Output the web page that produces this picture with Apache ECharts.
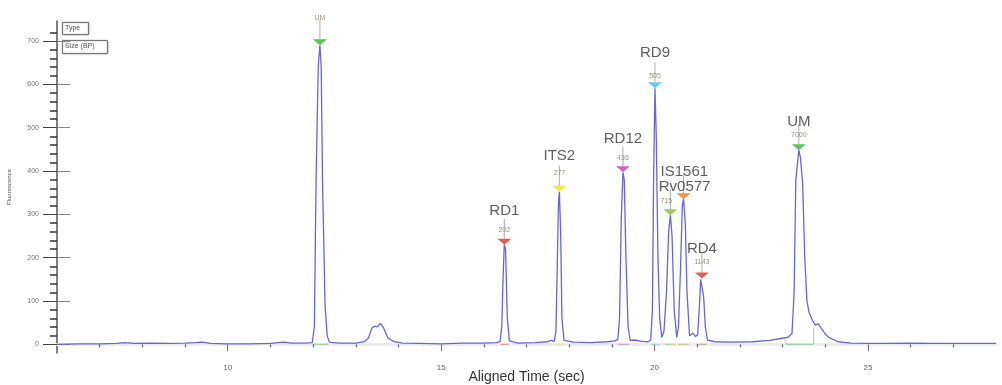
<!DOCTYPE html>
<html>
<head>
<meta charset="utf-8">
<script src="https://cdn.jsdelivr.net/npm/echarts@6/dist/echarts.min.js"></script>
<style>
  html, body { margin: 0; padding: 0; background: #fff; }
  #chart { width: 1002px; height: 385px; }
</style>
</head>
<body>
<div id="chart"></div>
<script>
// electropherogram trace (time in sec, fluorescence)
const traceTime = [
  6.0, 6.5, 7.0, 7.4, 7.58, 7.8, 8.2, 8.6, 9.0, 9.25, 9.4, 9.6, 10.0, 10.5, 11.0, 11.3, 11.5, 11.8,
  11.98, 12.03, 12.07, 12.12, 12.16, 12.19, 12.22, 12.28, 12.33, 12.38, 12.6, 13.0,
  13.2, 13.3, 13.38, 13.45, 13.5, 13.58, 13.65, 13.75, 13.9, 14.1, 14.5, 15.0, 15.5, 16.0, 16.3,
  16.38, 16.42, 16.45, 16.48, 16.51, 16.55, 16.6, 16.8, 17.2, 17.5, 17.58, 17.65,
  17.69, 17.72, 17.75, 17.77, 17.8, 17.83, 17.88, 18.1, 18.5, 18.9, 19.08,
  19.14, 19.18, 19.22, 19.26, 19.29, 19.33, 19.38, 19.43, 19.53, 19.7, 19.85,
  19.91, 19.95, 19.98, 20.01, 20.04, 20.08, 20.12, 20.17,
  20.22, 20.28, 20.33, 20.37, 20.41, 20.46, 20.52,
  20.56, 20.61, 20.65, 20.68, 20.72, 20.76, 20.82, 20.9, 20.96,
  21.01, 21.05, 21.08, 21.11, 21.15, 21.19, 21.24, 21.4, 21.8, 22.3, 22.7, 23.0, 23.12,
  23.22, 23.27, 23.31, 23.38, 23.42, 23.47, 23.52, 23.57, 23.62, 23.7, 23.77, 23.83, 23.9,
  24.0, 24.08, 24.3, 24.6, 25.0, 25.5, 26.0, 26.5, 27.0, 27.5, 28.0
];
const traceRfu = [
  0, 1, 1, 2, 4, 2, 3, 2, 3, 4, 5, 2, 1, 1, 2, 5, 3, 3,
  4, 40, 380, 640, 690, 640, 380, 90, 20, 5, 3, 3,
  6, 15, 38, 42, 40, 48, 38, 15, 6, 3, 2, 1, 3, 3, 4,
  6, 40, 150, 230, 220, 60, 8, 3, 4, 6, 9, 7,
  30, 180, 330, 352, 260, 60, 9, 5, 4, 6, 8,
  12, 60, 290, 397, 380, 200, 40, 9, 10, 7, 6,
  10, 80, 400, 591, 480, 200, 60, 16,
  30, 120, 260, 298, 250, 80, 16,
  40, 180, 320, 335, 280, 120, 20, 26, 18,
  22, 85, 150, 152, 110, 40, 10, 6, 5, 6, 9, 14, 16,
  25, 120, 380, 448, 430, 370, 200, 100, 74, 55, 44, 48, 38,
  24, 16, 6, 3, 2, 2, 3, 2, 2, 2, 2
];

// called peaks
const peakTime = [12.16, 16.48, 17.77, 19.26, 20.01, 20.37, 20.68, 21.11, 23.38];
const peakRfu = [690, 230, 352, 397, 591, 298, 335, 152, 448];
const peakName = ['', 'RD1', 'ITS2', 'RD12', 'RD9', 'IS1561', 'Rv0577', 'RD4', 'UM'];
const peakSize = ['UM', '202', '277', '436', '505', '715', '', '1143', '7000'];
const peakStart = [11.98, 16.4, 17.69, 19.14, 19.92, 20.25, 20.55, 20.98, 23.05];
const peakEnd = [12.36, 16.58, 17.86, 19.4, 20.12, 20.5, 20.8, 21.22, 23.73];

// x / y tick values
const xLabels = [10, 15, 20, 25];
const xMinor = [7, 8, 9, 11, 12, 13, 14, 16, 17, 18, 19, 21, 22, 23, 24, 26, 27];
const yLabels = [0, 100, 200, 300, 400, 500, 600, 700];
const yMinor = [];
for (let v = 20; v < 740; v += 20) if (v % 100) yMinor.push(v);

const peakColor = ['#2fb52f', '#e2302a', '#f2e21a', '#c23cb2', '#3fbbe8', '#72c232', '#ea7a1e', '#d2402e', '#2fb540'];
const nameLift = [0, 26, 28, 26, 28, 36, 5, 22, 21];
const nameShift = [0, 0, 0, 0, 0, 14, 1, 0, 0];
const sizeLift = [18, 5, 9, 5, 3, 5, 5, 7, 6];
const sizeShift = [0, 0, 0, 0, 0, -4, 0, 0, 0];

const trace = traceTime.map((t, i) => [t, traceRfu[i]]);
const peaks = peakTime.map((t, i) => [t, peakRfu[i]]);

const baseLines = peakTime.map((t, i) => {
  const coords = i === peakTime.length - 1
    ? [[peakStart[i], 12], [peakStart[i] + 0.05, 0], [peakEnd[i], 0], [peakEnd[i], 38]]
    : [[peakStart[i], 0], [peakEnd[i], 0]];
  return { coords, lineStyle: { color: peakColor[i] } };
});

const chart = echarts.init(document.getElementById('chart'));

const yBase = { type: 'value', min: -20, max: 746, splitLine: { show: false } };
const xBase = { type: 'value', min: 6, max: 28, splitLine: { show: false } };

chart.setOption({
  animation: false,
  grid: { left: 57, right: 6, top: 21, bottom: 32, outerBoundsMode: 'none', containLabel: false },
  xAxis: [
    Object.assign({}, xBase, {
      position: 'bottom',
      name: 'Aligned Time (sec)',
      nameLocation: 'middle',
      nameGap: 17,
      nameMoveOverlap: false,
      nameTextStyle: { fontFamily: 'Liberation Sans', fontSize: 14, color: '#333' },
      axisLine: { lineStyle: { color: '#9a9a9a', width: 1.5 } },
      axisTick: { customValues: xLabels, length: 7, lineStyle: { color: '#777' } },
      axisLabel: { customValues: xLabels, fontSize: 8, color: '#666', margin: 11, fontFamily: 'Liberation Sans' }
    }),
    Object.assign({}, xBase, {
      position: 'bottom',
      axisLine: { show: false },
      axisTick: { customValues: xMinor, length: 3, lineStyle: { color: '#666', width: 1.2 } },
      axisLabel: { show: false }
    }),
    Object.assign({}, xBase, {
      position: 'top',
      axisLine: { lineStyle: { color: '#ececec', width: 3 } },
      axisTick: { show: false },
      axisLabel: { show: false }
    })
  ],
  yAxis: [
    Object.assign({}, yBase, {
      name: 'Fluorescence',
      nameLocation: 'middle',
      nameGap: 45,
      nameMoveOverlap: false,
      nameTextStyle: { fontSize: 6, color: '#555', fontFamily: 'Liberation Sans' },
      axisLine: { show: true, lineStyle: { color: '#555', width: 1.5 } },
      axisTick: { customValues: yLabels, length: 14, lineStyle: { color: '#444' } },
      axisLabel: { customValues: yLabels, fontSize: 7, color: '#777', margin: 18, fontFamily: 'Liberation Sans' }
    }),
    Object.assign({}, yBase, {
      position: 'left',
      axisLine: { show: false },
      axisTick: { inside: true, customValues: yLabels, length: 13, lineStyle: { color: '#888' } },
      axisLabel: { show: false }
    }),
    Object.assign({}, yBase, {
      position: 'left',
      axisLine: { show: false },
      axisTick: { customValues: yMinor, length: 7, lineStyle: { color: '#333', width: 1.5 } },
      axisLabel: { show: false }
    })
  ],
  graphic: [
    { type: 'rect', left: 62, top: 22, shape: { width: 26, height: 12 },
      style: { fill: '#fff', stroke: '#777', lineWidth: 1, shadowBlur: 2, shadowColor: 'rgba(0,0,0,0.3)' } },
    { type: 'text', left: 65, top: 25, style: { text: 'Type', fontSize: 7, fill: '#555' } },
    { type: 'rect', left: 62, top: 40, shape: { width: 45, height: 13 },
      style: { fill: '#fff', stroke: '#777', lineWidth: 1, shadowBlur: 2, shadowColor: 'rgba(0,0,0,0.3)' } },
    { type: 'text', left: 65, top: 43, style: { text: 'Size (BP)', fontSize: 7, fill: '#555' } }
  ],
  series: [
    {
      type: 'line',
      data: trace,
      showSymbol: false,
      lineStyle: { color: '#6767d2', width: 1.3 },
      z: 3
    },
    {
      type: 'lines',
      coordinateSystem: 'cartesian2d',
      polyline: true,
      data: baseLines,
      lineStyle: { width: 1 },
      z: 2
    },
    {
      // stems above the called peaks
      type: 'scatter',
      data: peaks,
      symbol: 'rect',
      symbolSize: [1, 20],
      symbolOffset: [0, -16],
      itemStyle: { color: '#9a9a9a' },
      z: 4
    },
    {
      type: 'scatter',
      data: peaks.map((p, i) => ({
        value: p,
        itemStyle: { color: peakColor[i] },
        label: { distance: sizeLift[i], offset: [sizeShift[i], 0] }
      })),
      symbol: 'triangle',
      symbolRotate: 180,
      symbolSize: [14, 6],
      symbolOffset: [0, -3],
      label: {
        show: true,
        position: 'top',
        formatter: (p) => peakSize[p.dataIndex],
        fontSize: 7,
        color: '#8a7560',
        fontFamily: 'Liberation Sans'
      },
      z: 5
    },
    {
      type: 'scatter',
      data: peaks.map((p, i) => ({
        value: p,
        label: { distance: nameLift[i], offset: [nameShift[i], 0] }
      })),
      symbolSize: 0,
      label: {
        show: true,
        position: 'top',
        formatter: (p) => peakName[p.dataIndex],
        fontSize: 15,
        color: '#333',
        fontFamily: 'Liberation Sans'
      },
      z: 6
    }
  ]
});
</script>
</body>
</html>
